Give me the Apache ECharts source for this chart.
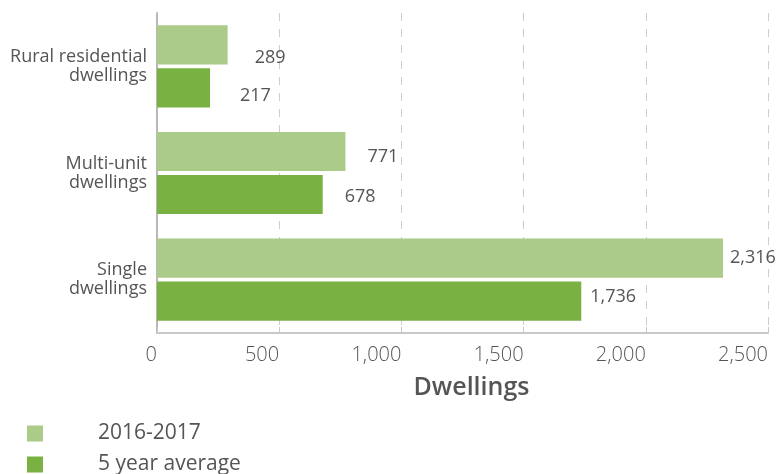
<!DOCTYPE html>
<html>
<head>
<meta charset="utf-8">
<script src="https://cdn.jsdelivr.net/npm/echarts@6/dist/echarts.min.js"></script>
<style>
  html, body { margin: 0; padding: 0; background: #ffffff; }
  #chart { width: 781px; height: 474px; }
</style>
</head>
<body>
<div id="chart"></div>
<script>
// Dwelling types, listed top to bottom
const categories = ['Rural residential\ndwellings', 'Multi-unit\ndwellings', 'Single\ndwellings'];
const seriesNames = ['2016-2017', '5 year average'];
const current = [289, 771, 2316];
const fiveYearAvg = [217, 678, 1736];
const xTicks = { min: 0, max: 2500, step: 500 };

const TEXT = '#555555';
const FONT = '"Open Sans", "DejaVu Sans", sans-serif';
const LIGHT = '#abcb89';
const DARK = '#79b142';

// Value labels sit at individually tuned spots beside each bar
const currentLabelStyle = [
  { distance: 27, offset: [0, 13] },
  { distance: 22, offset: [0, 5] },
  { distance: 7, offset: [0, 0] }
];
const avgLabelStyle = [
  { distance: 30, offset: [0, 8] },
  { distance: 22, offset: [0, 2] },
  { distance: 9, offset: [0, -4] }
];

function withLabels(values, styles) {
  return values.map((v, i) => ({
    value: v,
    label: { distance: styles[i].distance, offset: styles[i].offset }
  }));
}

const labelBase = {
  show: true,
  position: 'right',
  color: TEXT,
  fontFamily: FONT,
  fontSize: 18,
  formatter: p => p.value.toLocaleString('en-US')
};

// One legend block per series, stacked at the bottom left
function legendBlock(name, top) {
  return {
    orient: 'vertical',
    left: 22,
    top: top,
    itemWidth: 16,
    itemHeight: 16,
    icon: 'rect',
    data: [name],
    textStyle: { color: TEXT, fontFamily: FONT, fontSize: 21, padding: [0, 0, 0, 50] }
  };
}

const chart = echarts.init(document.getElementById('chart'), null, { renderer: 'canvas' });
chart.setOption({
  animation: false,
  backgroundColor: '#ffffff',
  textStyle: { fontFamily: FONT },
  grid: { left: 157, right: 13, top: 13, bottom: 141, containLabel: false },
  legend: [legendBlock(seriesNames[0], 418), legendBlock(seriesNames[1], 449)],
  xAxis: {
    type: 'value',
    min: xTicks.min,
    max: xTicks.max,
    interval: xTicks.step,
    name: 'Dwellings',
    nameLocation: 'middle',
    nameGap: 42,
    nameTextStyle: { color: TEXT, fontFamily: FONT, fontSize: 25, fontWeight: 600, padding: [0, 0, 0, 18] },
    axisLine: { show: true, lineStyle: { color: '#c8c8c8', width: 2 } },
    axisTick: { show: true, inside: true, length: 6, lineStyle: { color: '#c8c8c8' } },
    axisLabel: {
      color: TEXT, fontFamily: FONT, fontSize: 20, fontWeight: 300,
      align: 'right', margin: 12,
      formatter: v => v.toLocaleString('en-US')
    },
    splitLine: { show: true, lineStyle: { color: '#cccccc', type: [8, 8], width: 1 } }
  },
  yAxis: {
    type: 'category',
    inverse: true,
    data: categories,
    axisLine: { show: true, lineStyle: { color: '#b8b8b8', width: 2 } },
    axisTick: { show: false },
    axisLabel: {
      color: TEXT, fontFamily: FONT, fontSize: 18, lineHeight: 19,
      align: 'right', margin: 10
    }
  },
  series: [
    {
      name: seriesNames[0],
      type: 'bar',
      barGap: '10%',
      barCategoryGap: '23%',
      itemStyle: { color: LIGHT },
      label: labelBase,
      data: withLabels(current, currentLabelStyle)
    },
    {
      name: seriesNames[1],
      type: 'bar',
      itemStyle: { color: DARK },
      label: labelBase,
      data: withLabels(fiveYearAvg, avgLabelStyle)
    }
  ]
});
</script>
</body>
</html>
